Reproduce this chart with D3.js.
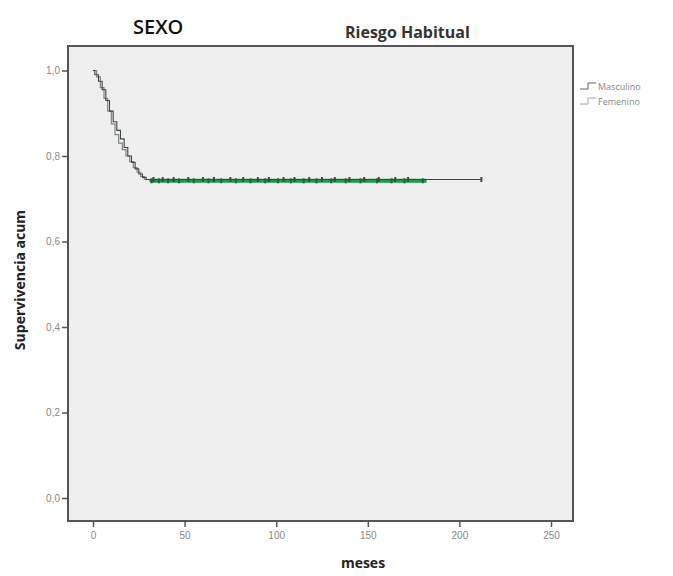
<!DOCTYPE html>
<html>
<head>
<meta charset="utf-8">
<script src="https://cdn.jsdelivr.net/npm/d3@7"></script>
<style>
  body { margin: 0; background: #fff; }
  svg { font-family: "Open Sans", "DejaVu Sans", sans-serif; }
</style>
</head>
<body>
<svg id="km" width="673" height="576"></svg>
<script>
// Kaplan-Meier steps (months, cumulative survival)
var mascTimes = [0, 1, 3, 5, 7, 9, 11, 13, 15, 17, 19, 21, 23, 25, 27, 29];
var mascSurv = [1.0, 0.99, 0.975, 0.955, 0.93, 0.905, 0.88, 0.86, 0.84, 0.82, 0.80, 0.785, 0.77, 0.758, 0.75, 0.745];
var mascEnd = 212;
var mascCensor = [33, 38, 44, 52, 60, 66, 75, 82, 90, 96, 104, 110, 118, 125, 132, 140, 148, 156, 165, 172, 212];

var femTimes = [0, 2, 4, 6, 8, 10, 12, 14, 16, 18, 20, 22, 24, 26, 28, 31];
var femSurv = [1.0, 0.985, 0.96, 0.935, 0.905, 0.875, 0.85, 0.83, 0.815, 0.8, 0.787, 0.773, 0.762, 0.752, 0.745, 0.742];
var femEnd = 182;
var femCensor = [32, 36, 41, 47, 55, 63, 70, 78, 86, 94, 101, 108, 115, 122, 130, 138, 146, 155, 163, 170, 180];

var xTicks = [0, 50, 100, 150, 200, 250];
var yTicks = [0.0, 0.2, 0.4, 0.6, 0.8, 1.0];
var legendLabels = ['Masculino', 'Femenino'];

var svg = d3.select('#km');
var frame = {left: 68, top: 46, right: 573, bottom: 521};

var x = d3.scaleLinear().domain([0, 250]).range([93, 551]);
var y = d3.scaleLinear().domain([0, 1]).range([498, 70.5]);

svg.append('rect')
    .attr('x', frame.left).attr('y', frame.top)
    .attr('width', frame.right - frame.left).attr('height', frame.bottom - frame.top)
    .attr('fill', '#efefef')
    .attr('stroke', '#555')
    .attr('stroke-width', 2);

// axes
var fmt = function(d) { return d3.format('.1f')(d).replace('.', ','); };
var yAxis = svg.append('g')
    .attr('transform', 'translate(' + frame.left + ',0)')
    .call(d3.axisLeft(y).tickValues(yTicks).tickFormat(fmt).tickSize(6).tickPadding(2));
var xAxis = svg.append('g')
    .attr('transform', 'translate(0,' + frame.bottom + ')')
    .call(d3.axisBottom(x).tickValues(xTicks).tickSize(6).tickPadding(5));
[xAxis, yAxis].forEach(function(a) {
    a.select('.domain').remove();
    a.selectAll('line').attr('stroke', '#555').attr('stroke-width', 1.5);
    a.selectAll('text').attr('fill', '#888').style('font-size', '10px');
});

function stepPath(times, surv, end) {
    var pts = [];
    times.forEach(function(t, i) {
        if (i > 0) pts.push([t, surv[i - 1]]);
        pts.push([t, surv[i]]);
    });
    pts.push([end, surv[surv.length - 1]]);
    return d3.line().x(function(d) { return x(d[0]); }).y(function(d) { return y(d[1]); })(pts);
}

// Femenino
svg.append('path')
    .attr('d', stepPath(femTimes, femSurv, femEnd))
    .attr('fill', 'none').attr('stroke', '#7a8a80').attr('stroke-width', 1.2);
svg.append('path')
    .attr('d', stepPath(femTimes.slice(-1), femSurv.slice(-1), femEnd))
    .attr('fill', 'none').attr('stroke', '#1f9a4c').attr('stroke-width', 4);

// Masculino
svg.append('path')
    .attr('d', stepPath(mascTimes, mascSurv, mascEnd))
    .attr('fill', 'none').attr('stroke', '#444').attr('stroke-width', 1.1);

// censor marks
function censor(times, s, color) {
    svg.append('g').selectAll('line')
        .data(times).enter().append('line')
        .attr('x1', function(d) { return x(d); }).attr('x2', function(d) { return x(d); })
        .attr('y1', y(s) - 2.5).attr('y2', y(s) + 2.5)
        .attr('stroke', color).attr('stroke-width', 2);
}
censor(femCensor, femSurv[femSurv.length - 1], '#2f5a44');
censor(mascCensor, mascSurv[mascSurv.length - 1], '#444');

// legend
var lg = svg.append('g').attr('transform', 'translate(580,86)');
legendLabels.forEach(function(l, i) {
    var g = lg.append('g').attr('transform', 'translate(0,' + i * 15 + ')');
    g.append('path').attr('d', 'M0,3 H8 V-3 H16')
        .attr('fill', 'none').attr('stroke', i === 0 ? '#666' : '#aaa').attr('stroke-width', 1);
    g.append('text').attr('x', 18).attr('y', 4).text(l)
        .attr('fill', '#888').style('font-size', '9px');
});

// titles
svg.append('text').attr('x', 133).attr('y', 34).text('SEXO')
    .style('font-size', '20px').style('font-weight', '600').attr('fill', '#111');
svg.append('text').attr('x', 345).attr('y', 38).text('Riesgo Habitual')
    .style('font-size', '16px').style('font-weight', 'bold').attr('fill', '#333');
svg.append('text').attr('x', 363).attr('y', 568).attr('text-anchor', 'middle').text('meses')
    .style('font-size', '14px').style('font-weight', 'bold').attr('fill', '#222');
svg.append('text')
    .attr('transform', 'translate(25,280) rotate(-90)')
    .attr('text-anchor', 'middle').text('Supervivencia acum')
    .style('font-size', '14px').style('font-weight', 'bold').attr('fill', '#222');
</script>
</body>
</html>
